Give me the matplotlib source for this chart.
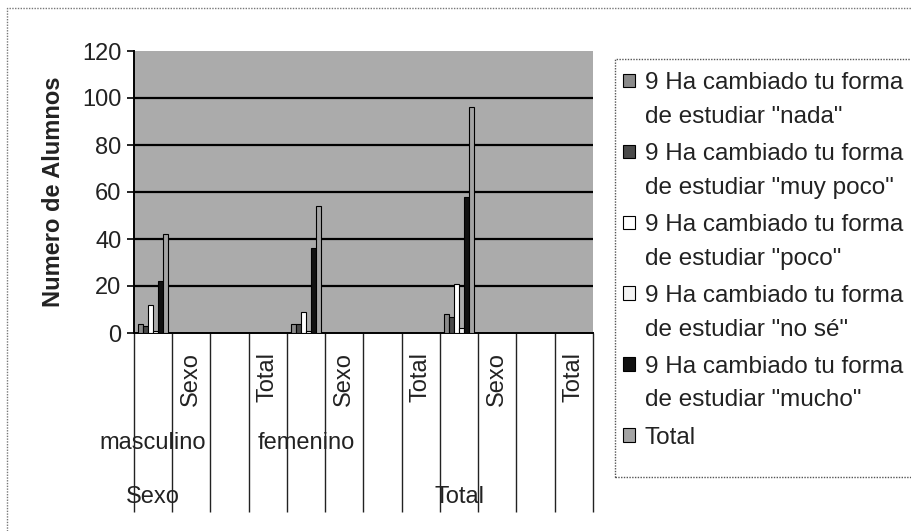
import numpy as np
import matplotlib.pyplot as plt
from matplotlib.patches import Rectangle
from matplotlib.legend_handler import HandlerPatch
from matplotlib.transforms import blended_transform_factory

plt.rcParams['font.family'] = ['Liberation Sans', 'DejaVu Sans']

# level-1 / level-2 / level-3 category labels (Excel pivot chart)
cat_lvl1 = ['', 'Sexo', '', 'Total', '', 'Sexo', '', 'Total', '', 'Sexo', '', 'Total']
cat_lvl2 = {0: 'masculino', 4: 'femenino'}
cat_lvl3 = {0: 'Sexo', 8: 'Total'}

series_names = ['9 Ha cambiado tu forma\nde estudiar "nada"',
                '9 Ha cambiado tu forma\nde estudiar "muy poco"',
                '9 Ha cambiado tu forma\nde estudiar "poco"',
                '9 Ha cambiado tu forma\nde estudiar "no sé"',
                '9 Ha cambiado tu forma\nde estudiar "mucho"',
                'Total']

# values per category (12 categories), only 0, 4 and 8 carry data
nada     = [4, 0, 0, 0, 4, 0, 0, 0, 8, 0, 0, 0]
muy_poco = [3, 0, 0, 0, 4, 0, 0, 0, 7, 0, 0, 0]
poco     = [12, 0, 0, 0, 9, 0, 0, 0, 21, 0, 0, 0]
no_se    = [1, 0, 0, 0, 1, 0, 0, 0, 2, 0, 0, 0]
mucho    = [22, 0, 0, 0, 36, 0, 0, 0, 58, 0, 0, 0]
total    = [42, 0, 0, 0, 54, 0, 0, 0, 96, 0, 0, 0]

colors = ['#8a8a8a', '#4a4a4a', '#ffffff', '#f4f4f4', '#111111', '#a4a4a4']

W, H = 911, 531
fig = plt.figure(figsize=(W / 100, H / 100), dpi=100)
ax = fig.add_axes([134 / W, 1 - 333 / H, (593 - 134) / W, (333 - 51) / H])
ax.set_facecolor('#ababab')

x = np.arange(len(cat_lvl1))
bw = 1 / 7.5
data = [nada, muy_poco, poco, no_se, mucho, total]
for k, (vals, c) in enumerate(zip(data, colors)):
    ax.bar(x - 0.4 + bw * (k + 0.5), vals, width=bw, color=c,
           edgecolor='black', linewidth=0.8, zorder=3)

ax.set_xlim(-0.5, 11.5)
ax.set_ylim(0, 120)
ax.set_yticks(range(0, 121, 20))
for v in range(20, 101, 20):
    ax.axhline(v, color='black', lw=1.6, zorder=2)

for s in ['top', 'right']:
    ax.spines[s].set_visible(False)
ax.spines['left'].set_linewidth(1.4)
ax.spines['bottom'].set_linewidth(1.4)
ax.tick_params(axis='y', labelsize=17, length=5, width=1.2, pad=4, labelcolor='#222222')

ax.set_xticks(x)
ax.set_xticklabels(cat_lvl1, rotation=90, fontsize=17, va='top', color='#222222')
ax.tick_params(axis='x', length=0, pad=14)
ax.set_ylabel('Numero de Alumnos', fontsize=17, fontweight='bold', labelpad=12,
              color='#222222')

# category separator lines below the axis
tr = blended_transform_factory(ax.transData, ax.transAxes)
ax.vlines(np.arange(-0.5, 12, 1), -0.635, 0, transform=tr, colors='#222222',
          lw=1.0, clip_on=False)
for i, t in cat_lvl2.items():
    ax.text(i, -0.39, t, transform=tr, ha='center', va='center', fontsize=17,
            color='#222222')
for i, t in cat_lvl3.items():
    ax.text(i, -0.58, t, transform=tr, ha='center', va='center', fontsize=17,
            color='#222222')


# legend marker sits next to the first line of a two-line label
def first_line_patch(legend, orig_handle, xdescent, ydescent, width, height, fontsize):
    return Rectangle((-xdescent, -ydescent + 13.7), width, height)


handles = [Rectangle((0, 0), 1, 1, facecolor=c, edgecolor='black', lw=0.8) for c in colors]
hmap = {h: HandlerPatch(patch_func=first_line_patch) for h in handles[:5]}
leg = fig.legend(handles, series_names, loc='upper left',
                 bbox_to_anchor=(613 / W, 1 - 62 / H), frameon=False,
                 fontsize=17.5, handlelength=0.5, handleheight=0.5,
                 handletextpad=0.4, labelspacing=0.62, borderaxespad=0,
                 labelcolor='#222222', handler_map=hmap)
for t in leg.get_texts():
    t.set_linespacing(1.7)
fig.add_artist(Rectangle((615 / W, 1 - 477 / H), (W + 5 - 615) / W, (477 - 59) / H,
                         transform=fig.transFigure, fill=False,
                         edgecolor='#555555', lw=1.0, linestyle=(0, (1, 1))))

# outer chart border
fig.add_artist(plt.Line2D([7 / W, 7 / W, 1], [0, 1 - 8 / H, 1 - 8 / H],
                          transform=fig.transFigure, color='#777777', lw=1.0,
                          linestyle=(0, (1, 1))))

fig.savefig('out.png', dpi=100)
